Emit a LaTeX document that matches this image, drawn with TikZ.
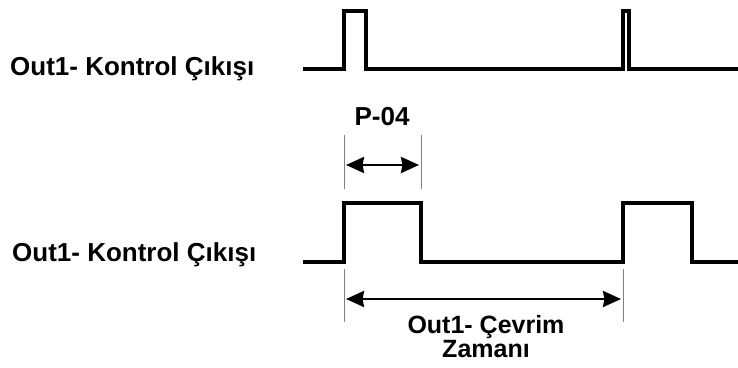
\documentclass[tikz,border=0pt]{standalone}
\usepackage{fontspec}
\setmainfont{Liberation Sans}
\usetikzlibrary{arrows.meta}

\begin{document}
\begin{tikzpicture}[x=1pt,y=-1pt,
  font=\bfseries\fontsize{26}{22}\selectfont,
  wave/.style={line width=3.5pt, line join=miter},
  tickline/.style={gray, line width=0.9pt},
  dimarrow/.style={line width=2.8pt, {Stealth[length=18pt,width=16pt,inset=1.5pt]}-{Stealth[length=18pt,width=16pt,inset=1.5pt]}}]

\useasboundingbox (0,0) rectangle (738,367);

\def\waveL{303}
\def\waveR{738}
\def\topLow{69}
\def\topHigh{11}
\def\botLow{262}
\def\botHigh{203}

\def\pulseA{344}
\def\pulseB{421}
\def\pulseC{623}
\def\pulseD{692}

% upper output
\draw[wave] (\waveL,\topLow) -- (\pulseA,\topLow) -- (\pulseA,\topHigh) -- (366,\topHigh)
  -- (366,\topLow) -- (\pulseC,\topLow) -- (\pulseC,\topHigh) -- (629,\topHigh)
  -- (629,\topLow) -- (\waveR,\topLow);

% lower output
\draw[wave] (\waveL,\botLow) -- (\pulseA,\botLow) -- (\pulseA,\botHigh) -- (\pulseB,\botHigh)
  -- (\pulseB,\botLow) -- (\pulseC,\botLow) -- (\pulseC,\botHigh) -- (\pulseD,\botHigh)
  -- (\pulseD,\botLow) -- (\waveR,\botLow);

% tick lines
\draw[tickline] (\pulseA,135) -- (\pulseA,189);
\draw[tickline] (\pulseB,135) -- (\pulseB,189);
\draw[tickline] (\pulseA,269) -- (\pulseA,322);
\draw[tickline] (\pulseC,269) -- (\pulseC,322);

\coordinate (pwL) at (\pulseA+2,165);
\coordinate (pwR) at (\pulseB-2,165);
\coordinate (cyL) at (\pulseA+2,299);
\coordinate (cyR) at (\pulseC-2,299);

\draw[dimarrow] (pwL) -- (pwR);
\draw[dimarrow] (cyL) -- (cyR);

\node[anchor=base west, inner sep=0pt] (outTop) at (10,75) {Out1- Kontrol Çıkışı};
\node[anchor=base west, inner sep=0pt] (outBot) at (12,261) {Out1- Kontrol Çıkışı};
\node[anchor=base, inner sep=0pt] (pw) at (382,125) {P-04};
\node[anchor=base, inner sep=0pt, font=\bfseries\fontsize{25}{21}\selectfont] (cyA) at (486,333) {Out1- Çevrim};
\node[anchor=base, inner sep=0pt, font=\bfseries\fontsize{25}{21}\selectfont] (cyB) at (486,357) {Zamanı};

\end{tikzpicture}
\end{document}
